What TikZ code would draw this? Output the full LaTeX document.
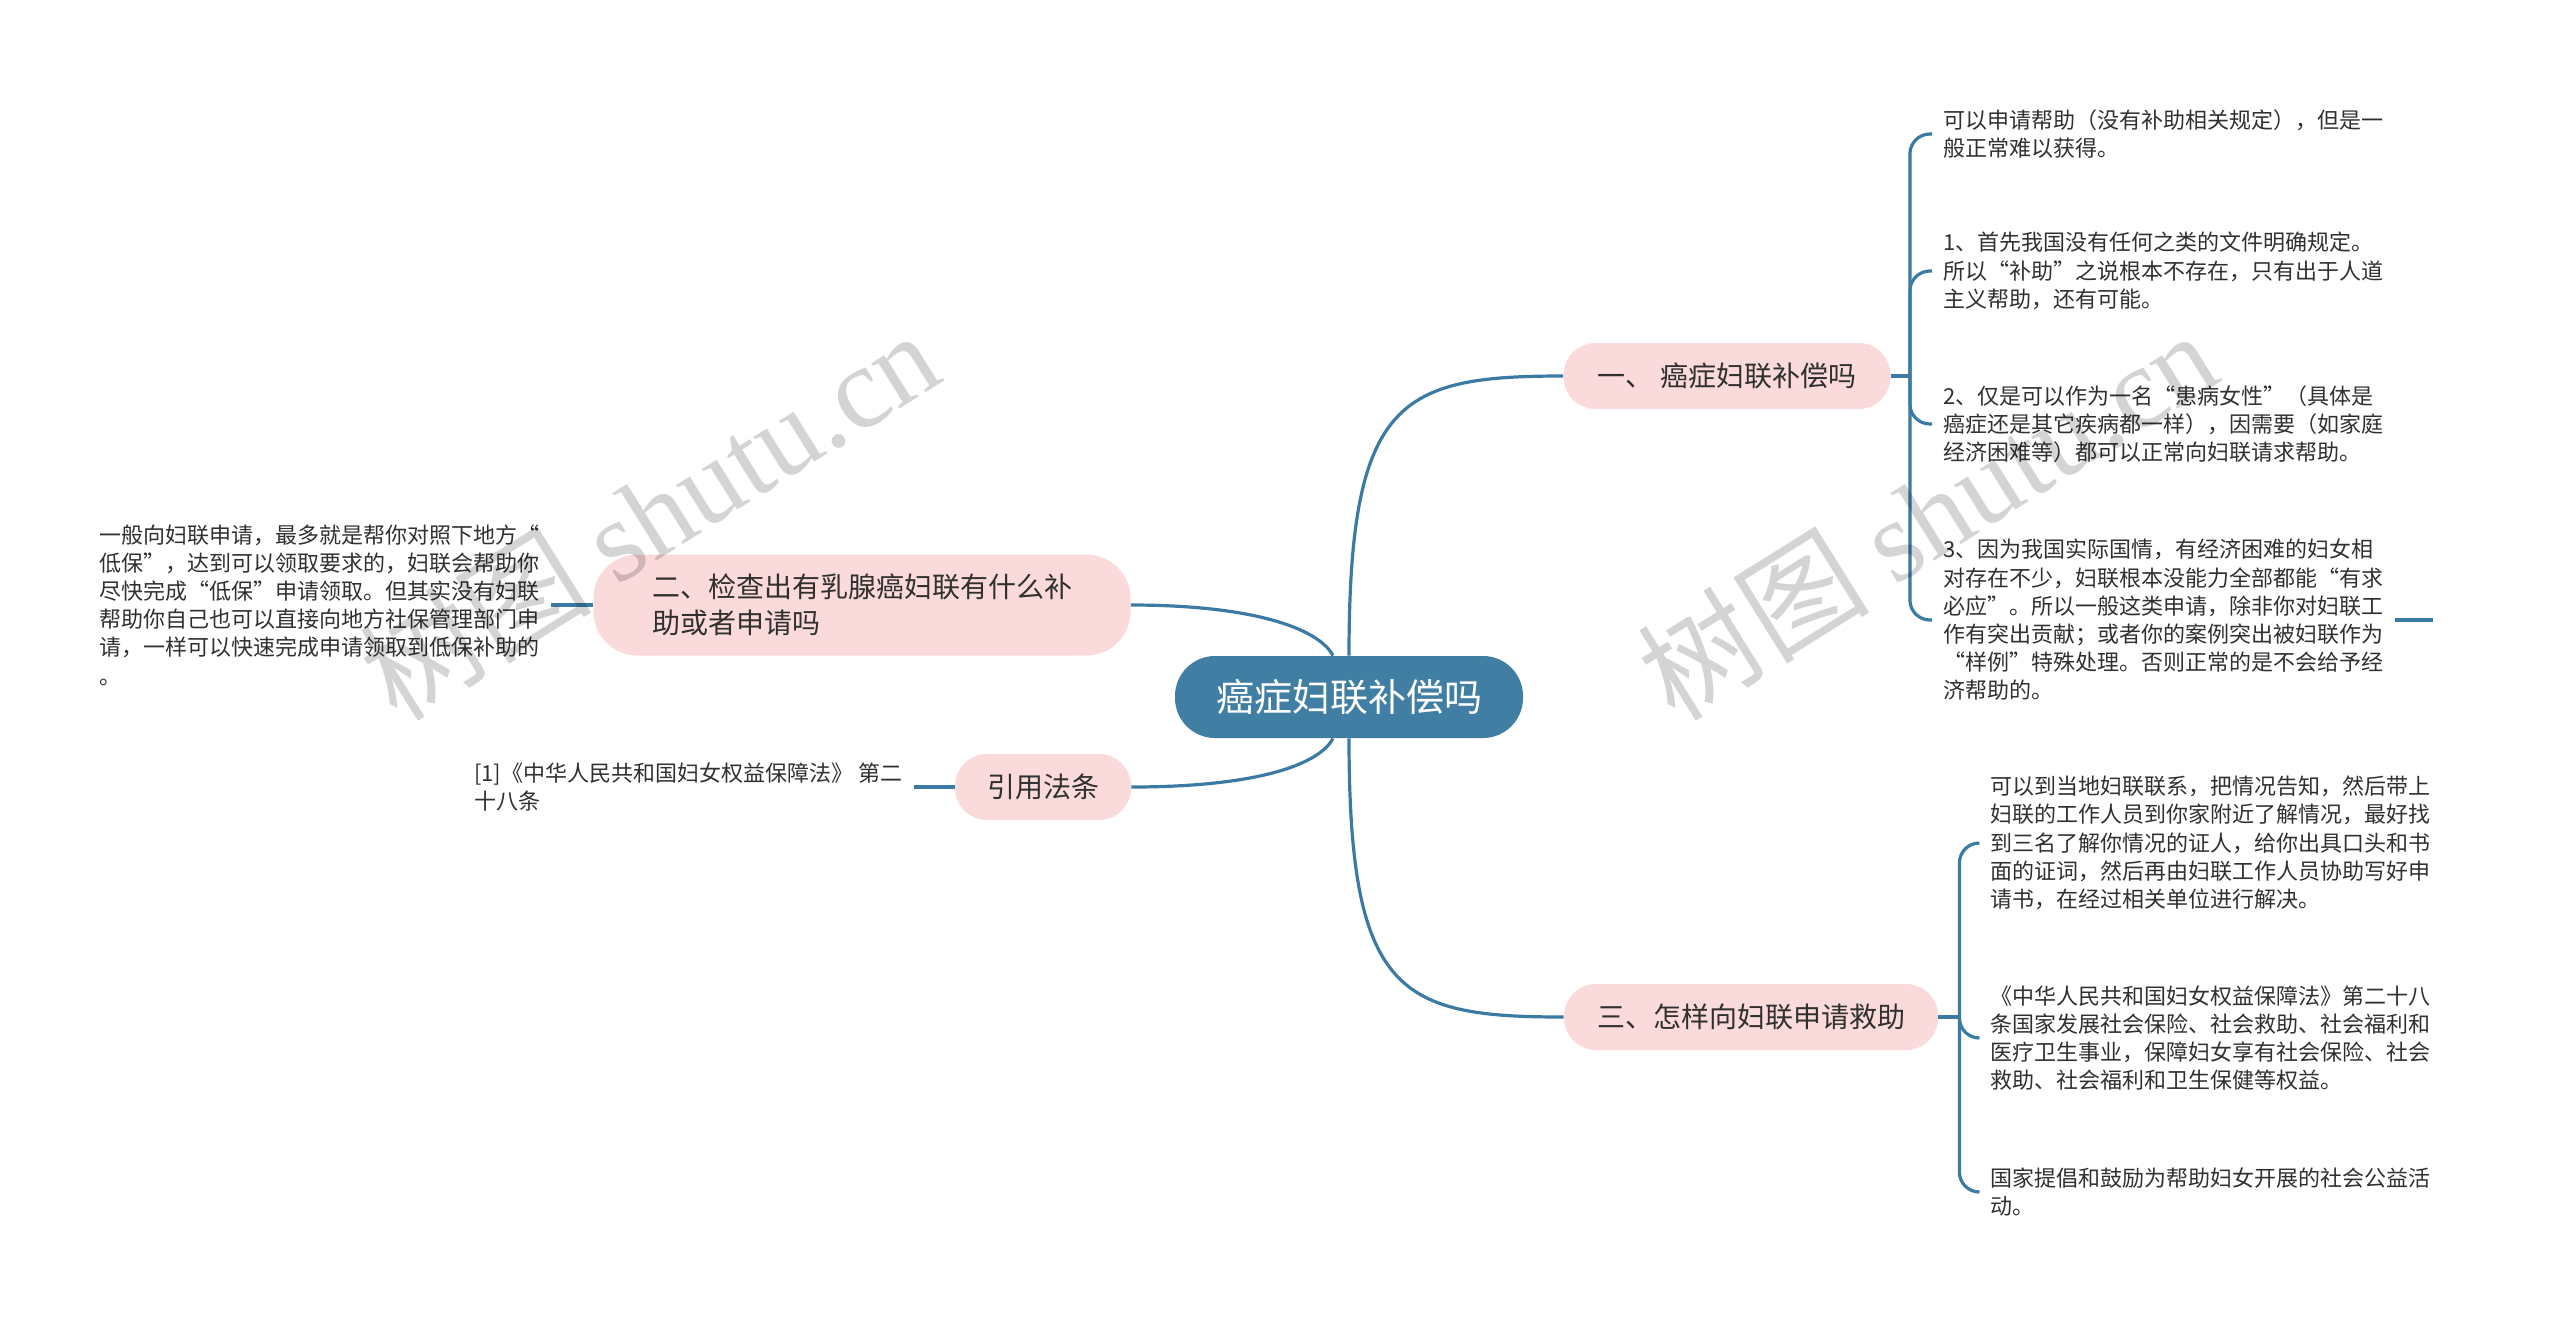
\documentclass[tikz,border=0pt]{standalone}
\usepackage{fontspec}
\setmainfont{Noto Sans CJK SC}
\newfontfamily\wmlatin{Liberation Serif}
\usepackage{tikz}
\usetikzlibrary{positioning,calc}
\definecolor{hubblue}{HTML}{407EA4}
\definecolor{linkblue}{HTML}{3B7BA3}
\definecolor{petal}{HTML}{FADADA}
\definecolor{ink}{HTML}{303030}
\newcommand{\leaffont}{\fontsize{11}{14.1}\selectfont}
\newcommand{\branchfont}{\fontsize{14}{18}\selectfont}
\newcommand{\wmtext}{树图 {\wmlatin shutu.cn}}

\begin{document}
\begin{tikzpicture}[x=0.5pt,y=-0.5pt,
  hub/.style={fill=hubblue,rounded corners=20pt,minimum width=174pt,minimum height=41pt,text=white,font=\fontsize{19}{22}\selectfont},
  branch/.style={fill=petal,rounded corners=16pt,minimum height=33pt,text=ink,font=\branchfont,align=left},
  leaf/.style={inner xsep=5.5pt,inner ysep=0pt,text=ink,font=\leaffont,align=left},
  link/.style={draw=linkblue,line width=1.6pt},
  wmark/.style={rotate=32,text=black,text opacity=0.17,font=\fontsize{58}{58}\selectfont}]
  \useasboundingbox (0,0) rectangle (2560,1324);
  \node[hub] (root) at (1349,697) {癌症妇联补偿吗};
  \node[branch,minimum width=163.5pt] (b1) at (1727,376) {一、 癌症妇联补偿吗};
  \node[branch,minimum width=268.5pt,minimum height=50.5pt,rounded corners=22pt] (b2) at (862,605) {二、检查出有乳腺癌妇联有什么补\\助或者申请吗};
  \node[branch,minimum width=187pt] (b3) at (1751,1017) {三、怎样向妇联申请救助};
  \node[branch,minimum width=88pt] (law) at (1043,787) {引用法条};
  \coordinate (s1) at ($(b1.east)+(19,0)$);
  \coordinate (s3) at ($(b3.east)+(21,0)$);
  \node[leaf,anchor=west] (r1) at (1932,134) {可以申请帮助（没有补助相关规定），但是一\\般正常难以获得。};
  \node[leaf,anchor=west] (r2) at (1932,271) {1、首先我国没有任何之类的文件明确规定。\\所以“补助”之说根本不存在，只有出于人道\\主义帮助，还有可能。};
  \node[leaf,anchor=west] (r3) at (1932,424) {2、仅是可以作为一名“患病女性”（具体是\\癌症还是其它疾病都一样），因需要（如家庭\\经济困难等）都可以正常向妇联请求帮助。};
  \node[leaf,anchor=west] (r4) at (1932,620) {3、因为我国实际国情，有经济困难的妇女相\\对存在不少，妇联根本没能力全部都能“有求\\必应”。所以一般这类申请，除非你对妇联工\\作有突出贡献；或者你的案例突出被妇联作为\\“样例”特殊处理。否则正常的是不会给予经\\济帮助的。};
  \node[leaf,anchor=west] (m1) at (1979,843) {可以到当地妇联联系，把情况告知，然后带上\\妇联的工作人员到你家附近了解情况，最好找\\到三名了解你情况的证人，给你出具口头和书\\面的证词，然后再由妇联工作人员协助写好申\\请书，在经过相关单位进行解决。};
  \node[leaf,anchor=west] (m2) at (1979,1038) {《中华人民共和国妇女权益保障法》第二十八\\条国家发展社会保险、社会救助、社会福利和\\医疗卫生事业，保障妇女享有社会保险、社会\\救助、社会福利和卫生保健等权益。};
  \node[leaf,anchor=west] (m3) at (1979,1192) {国家提倡和鼓励为帮助妇女开展的社会公益活\\动。};
  \node[leaf,anchor=east] (l1) at ($(b2.west)+(-42,0)$) {一般向妇联申请，最多就是帮你对照下地方“\\低保”，达到可以领取要求的，妇联会帮助你\\尽快完成“低保”申请领取。但其实没有妇联\\帮助你自己也可以直接向地方社保管理部门申\\请，一样可以快速完成申请领取到低保补助的\\。};
  \node[leaf,anchor=east] (l2) at ($(law.west)+(-41,0)$) {[1]《中华人民共和国妇女权益保障法》 第二\\十八条};
  \draw[link] (root.north) .. controls +(0,-256) and +(-164,0) .. (b1.west);
  \draw[link] (root.south) .. controls +(0,256) and +(-164,0) .. (b3.west);
  \draw[link] ($(root.north)+(-16,0)$) .. controls +(-15,-28) and +(120,0) .. (b2.east);
  \draw[link] ($(root.south)+(-16,0)$) .. controls +(-15,28) and +(120,0) .. (law.east);
  \draw[link] (b1.east) -- (s1);
  \foreach \n in {r1,r2,r3,r4} \draw[link,rounded corners=10pt] (s1) |- (\n.west);
  \draw[link] (r4.east) -- ++(38,0);
  \draw[link] (b3.east) -- (s3);
  \foreach \n in {m1,m2,m3} \draw[link,rounded corners=10pt] (s3) |- (\n.west);
  \draw[link] (b2.west) -- (l1.east);
  \draw[link] (law.west) -- (l2.east);
  \node[wmark] (wm1) at (649,514) {\wmtext};
  \node[wmark] (wm2) at (1927,514) {\wmtext};
\end{tikzpicture}
\end{document}
